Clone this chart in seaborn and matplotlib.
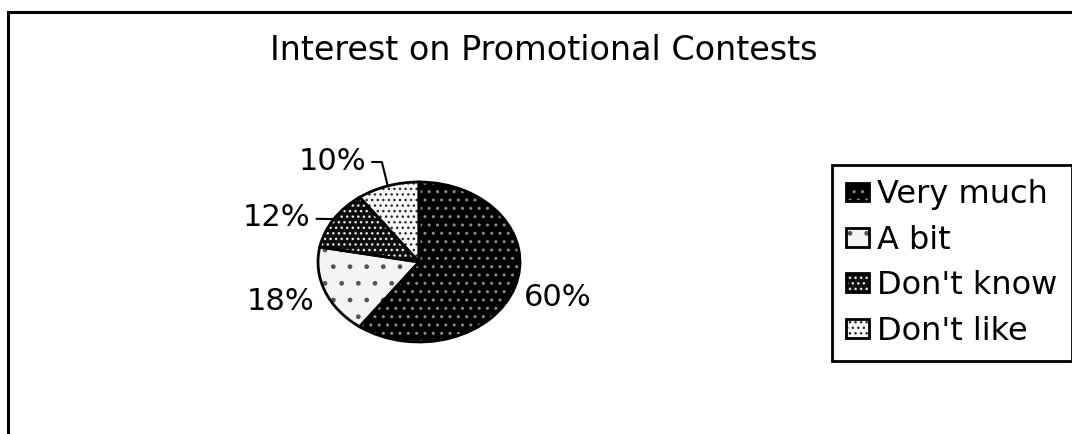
import numpy as np
import matplotlib
matplotlib.use("Agg")
import matplotlib.pyplot as plt
from matplotlib.patches import Rectangle
from matplotlib.legend_handler import HandlerTuple
import seaborn as sns

# Survey answers and their shares (percent)
categories = ["Very much", "A bit", "Don't know", "Don't like"]
shares = [60, 18, 12, 10]

# Slice styling: fill, dot colour and dot density
fills = ["#000000", "#f4f4f4", "#0d0d0d", "#f7f7f7"]
dot_colors = ["#8c8c8c", "#555555", "#e6e6e6", "#2a2a2a"]
hatches = ["..", ".", "...", "..."]

# Label placement (in pie units) for each slice; small slices get leader lines
label_pos = [(1.37, -0.45), (-1.37, -0.50), (-1.41, 0.55), (-0.86, 1.25)]
leader_angle = [None, None, 0, 104]

sns.set_theme(style="white")
plt.rcParams["font.family"] = ["DejaVu Sans"]
plt.rcParams["text.color"] = "black"
plt.rcParams["hatch.linewidth"] = 1.0

W, H = 1072, 434
fig = plt.figure(figsize=(W / 100, H / 100), dpi=100)
fig.patch.set_facecolor("white")

# Outer chart frame (runs past the right and bottom edges)
fig.patches.append(Rectangle((8 / W, -0.1), 1.2, (H - 12) / H + 0.1,
                             transform=fig.transFigure, fill=False,
                             edgecolor="black", linewidth=2.2))

fig.text(544 / W, 1 - 50 / H, "Interest on Promotional Contests",
         ha="center", va="center", fontsize=24, color="black")

cx, cy, rx, ry = 419, 262, 101, 80
ax = fig.add_axes([(cx - rx) / W, (H - cy - ry) / H, 2 * rx / W, 2 * ry / H])

base, _ = ax.pie(shares, startangle=90, counterclock=False, colors=fills,
                 wedgeprops=dict(linewidth=0))
for w, hc, ht in zip(base, dot_colors, hatches):
    w.set_edgecolor(hc)
    w.set_hatch(ht)
    w.set_linewidth(0)

outline, _ = ax.pie(shares, startangle=90, counterclock=False,
                    colors=["none"] * len(shares),
                    wedgeprops=dict(edgecolor="black", linewidth=2.0))

ax.set_aspect("auto")
ax.set_xlim(-1, 1)
ax.set_ylim(-1, 1)
ax.axis("off")

# Percentage labels
total = float(sum(shares))
start = 90.0
for val, (lx, ly), lead in zip(shares, label_pos, leader_angle):
    sweep = 360.0 * val / total
    mid = np.deg2rad(start - sweep / 2)
    start -= sweep
    txt = f"{val:.0f}%"
    if lead is not None:
        ex, ey = np.cos(mid), np.sin(mid)
        conn = "arc3" if lead == 0 else f"angle,angleA=0,angleB={lead},rad=0"
        ax.annotate(txt, xy=(ex, ey), xytext=(lx, ly), ha="center", va="center",
                    fontsize=22, color="black", annotation_clip=False,
                    arrowprops=dict(arrowstyle="-", color="black", lw=1.5,
                                    shrinkA=2, shrinkB=0,
                                    connectionstyle=conn))
    else:
        ax.text(lx, ly, txt, ha="center", va="center", fontsize=22,
                color="black", clip_on=False)

handles = [(b, o) for b, o in zip(base, outline)]
leg = fig.legend(handles, categories, loc="upper left",
                 bbox_to_anchor=(832 / W, 1 - 165 / H),
                 handler_map={tuple: HandlerTuple(ndivide=1)},
                 fontsize=23, frameon=True, fancybox=False, shadow=False,
                 framealpha=1, labelcolor="black",
                 handlelength=0.72, handleheight=0.53, handletextpad=0.25,
                 labelspacing=0.45, borderpad=0.45, borderaxespad=0)
leg.get_frame().set_edgecolor("black")
leg.get_frame().set_linewidth(2.0)

fig.savefig("out.png", dpi=100)
